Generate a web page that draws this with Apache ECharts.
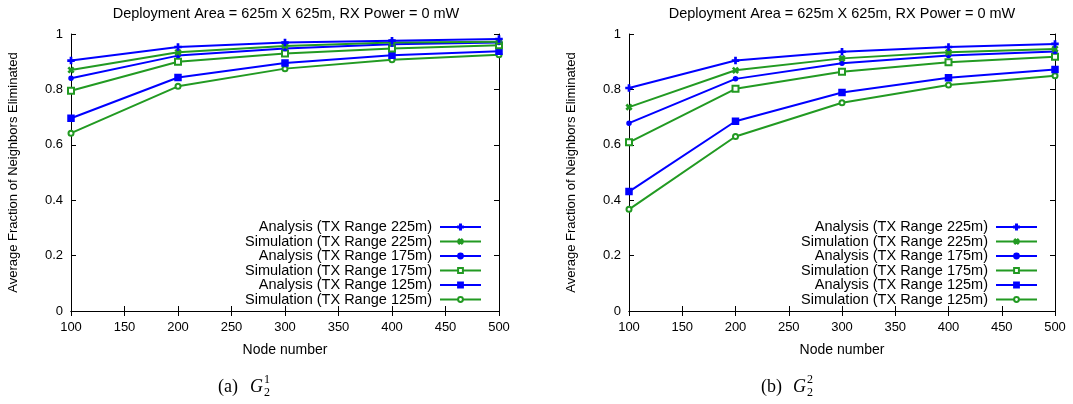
<!DOCTYPE html>
<html>
<head>
<meta charset="utf-8">
<script src="https://cdn.jsdelivr.net/npm/echarts@6/dist/echarts.min.js"></script>
<style>
  html, body { margin: 0; padding: 0; background: #fff; }
  #chart { width: 1073px; height: 404px; }
</style>
</head>
<body>
<div id="chart"></div>
<script>
const nodes = [100, 200, 300, 400, 500]
const xTicks = [100, 150, 200, 250, 300, 350, 400, 450, 500]
const yTicks = [0, 0.2, 0.4, 0.6, 0.8, 1]

const seriesNames = [
  'Analysis (TX Range 225m)',
  'Simulation (TX Range 225m)',
  'Analysis (TX Range 175m)',
  'Simulation (TX Range 175m)',
  'Analysis (TX Range 125m)',
  'Simulation (TX Range 125m)'
]

// (a) G_2^1
const leftA225 = [0.904, 0.953, 0.969, 0.976, 0.982]
const leftS225 = [0.870, 0.934, 0.957, 0.969, 0.972]
const leftA175 = [0.840, 0.922, 0.948, 0.963, 0.969]
const leftS175 = [0.795, 0.900, 0.930, 0.948, 0.959]
const leftA125 = [0.696, 0.843, 0.895, 0.923, 0.938]
const leftS125 = [0.642, 0.811, 0.875, 0.907, 0.925]

// (b) G_2^2
const rightA225 = [0.805, 0.904, 0.936, 0.953, 0.964]
const rightS225 = [0.736, 0.869, 0.912, 0.934, 0.946]
const rightA175 = [0.678, 0.838, 0.894, 0.922, 0.937]
const rightS175 = [0.609, 0.802, 0.864, 0.898, 0.918]
const rightA125 = [0.431, 0.685, 0.789, 0.842, 0.872]
const rightS125 = [0.367, 0.630, 0.752, 0.816, 0.849]

const BLUE = '#0000ff'
const GREEN = '#229a22'
const FONT = 'Liberation Sans'
const SERIF = 'Liberation Serif'

const PLUS = 'path://M4,0h2v4h4v2h-4v4h-2v-4h-4v-2h4z'

const styles = [
  { color: BLUE, symbol: PLUS, size: 6, rotate: 0 },
  { color: GREEN, symbol: PLUS, size: 6, rotate: 45 },
  { color: BLUE, symbol: 'circle', size: 4, rotate: 0 },
  { color: GREEN, symbol: 'emptyRect', size: 6, rotate: 0 },
  { color: BLUE, symbol: 'rect', size: 6, rotate: 0 },
  { color: GREEN, symbol: 'emptyCircle', size: 5, rotate: 0 }
]

const grids = [
  { left: 71, right: 574, top: 34, bottom: 93 },
  { left: 629, right: 18, top: 34, bottom: 93 }
]

const chart = echarts.init(document.getElementById('chart'))

function makeAxes(gi) {
  const xs = []
  const ys = []
  const base = {
    type: 'value',
    gridIndex: gi,
    min: 100,
    max: 500,
    interval: 50,
    axisLine: { show: true, lineStyle: { color: '#000', width: 1 } },
    axisTick: { show: true, inside: true, length: 5, lineStyle: { color: '#000' } },
    splitLine: { show: false }
  }
  xs.push(Object.assign({}, base, {
    position: 'bottom',
    name: 'Node number',
    nameLocation: 'middle',
    nameGap: 32,
    nameTextStyle: { fontFamily: FONT, fontSize: 14, color: '#000' },
    axisLabel: { fontFamily: FONT, fontSize: 13, color: '#000', margin: 10,
      formatter: v => xTicks.indexOf(v) >= 0 ? String(v) : '' }
  }))
  xs.push(Object.assign({}, base, { position: 'top', axisLabel: { show: false } }))

  const ybase = {
    type: 'value',
    gridIndex: gi,
    min: 0,
    max: 1,
    interval: 0.2,
    axisLine: { show: true, lineStyle: { color: '#000', width: 1 } },
    axisTick: { show: true, inside: true, length: 5, lineStyle: { color: '#000' } },
    splitLine: { show: false }
  }
  ys.push(Object.assign({}, ybase, {
    position: 'left',
    name: 'Average Fraction of Neighbors Eliminated',
    nameLocation: 'middle',
    nameGap: 51,
    nameTextStyle: { fontFamily: FONT, fontSize: 13, color: '#000' },
    axisLabel: { fontFamily: FONT, fontSize: 13, color: '#000', margin: 8,
      formatter: v => yTicks.indexOf(v) >= 0 ? String(v) : '' }
  }))
  ys.push(Object.assign({}, ybase, { position: 'right', axisLabel: { show: false } }))
  return { xs, ys }
}

const a0 = makeAxes(0)
const a1 = makeAxes(1)

function makeSeries(values, idx, gi) {
  const st = styles[idx]
  return {
    name: seriesNames[idx],
    type: 'line',
    xAxisIndex: gi * 2,
    yAxisIndex: gi * 2,
    data: nodes.map((n, i) => [n, values[i]]),
    symbol: st.symbol,
    symbolSize: st.size,
    symbolRotate: st.rotate,
    showAllSymbol: true,
    animation: false,
    lineStyle: { color: st.color, width: 2 },
    itemStyle: { color: st.color, borderColor: st.color, borderWidth: 1.5 },
    z: 10 - idx
  }
}

const leftData = [leftA225, leftS225, leftA175, leftS175, leftA125, leftS125]
const rightData = [rightA225, rightS225, rightA175, rightS175, rightA125, rightS125]

const series = []
leftData.forEach((d, i) => series.push(makeSeries(d, i, 0)))
rightData.forEach((d, i) => series.push(makeSeries(d, i, 1)))

const legendRows = [227, 241.5, 256, 270.5, 285, 299.5]
const legends = []
;[591, 35].forEach(r => {
  seriesNames.forEach((name, i) => {
    legends.push({
      data: [name],
      right: r,
      top: legendRows[i] - 8,
      align: 'right',
      itemWidth: 41,
      itemHeight: 6,
      itemGap: 8,
      padding: 0,
      selectedMode: false,
      textStyle: { fontFamily: FONT, fontSize: 14.5, color: '#000', lineHeight: 16,
        padding: [0, 3, 0, 0] }
    })
  })
})

const titleText = 'Deployment Area = 625m X 625m, RX Power = 0 mW'

function caption(x, label, sup) {
  return {
    type: 'group',
    left: x,
    top: 374,
    children: [
      { type: 'text', x: 0, y: 4, style: { text: label, font: '18px ' + SERIF, fill: '#000' } },
      { type: 'text', x: 32, y: 4, style: { text: 'G', font: 'italic 18px ' + SERIF, fill: '#000' } },
      { type: 'text', x: 46, y: 0, style: { text: sup, font: '12px ' + SERIF, fill: '#000' } },
      { type: 'text', x: 46, y: 13, style: { text: '2', font: '12px ' + SERIF, fill: '#000' } }
    ]
  }
}

const option = {
  animation: false,
  backgroundColor: '#fff',
  title: [
    { text: titleText, left: 281, top: 1, textAlign: 'center',
      textStyle: { fontFamily: FONT, fontSize: 14.5, fontWeight: 'normal', color: '#000' } },
    { text: titleText, left: 837, top: 1, textAlign: 'center',
      textStyle: { fontFamily: FONT, fontSize: 14.5, fontWeight: 'normal', color: '#000' } }
  ],
  grid: grids,
  xAxis: a0.xs.concat(a1.xs.map(a => Object.assign(a, { gridIndex: 1 }))),
  yAxis: a0.ys.concat(a1.ys.map(a => Object.assign(a, { gridIndex: 1 }))),
  legend: legends,
  series: series,
  graphic: [
    caption(218, '(a)', '1'),
    caption(761, '(b)', '2')
  ]
}

chart.setOption(option)
</script>
</body>
</html>
